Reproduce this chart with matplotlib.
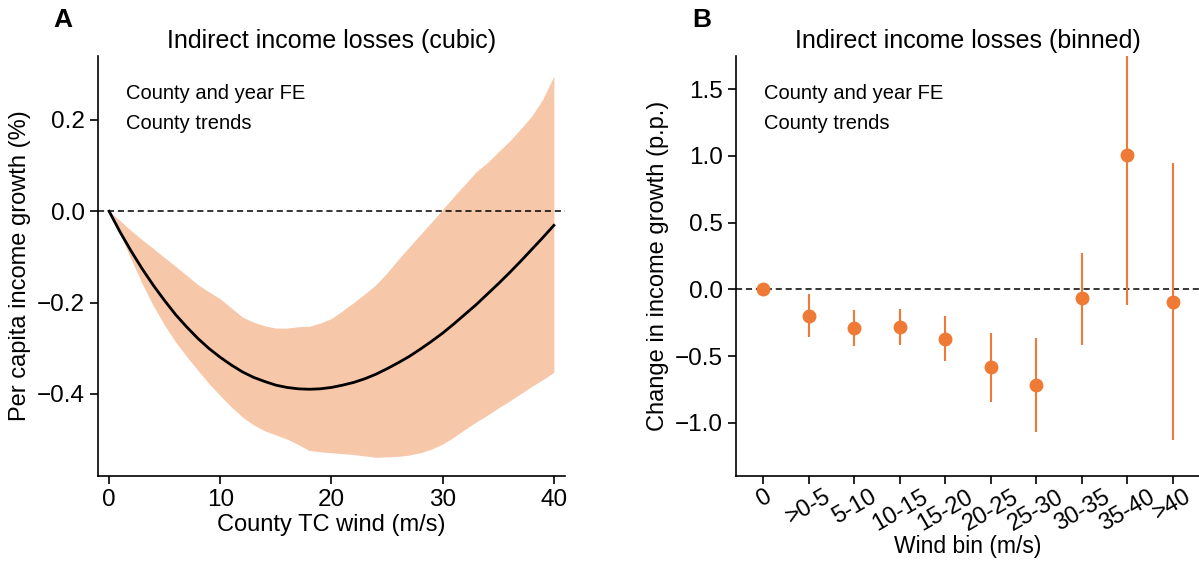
import matplotlib.pyplot as plt

plt.rcParams['font.family'] = ['Liberation Sans', 'DejaVu Sans']

# Panel A: cubic response with confidence band
wind = list(range(0, 41))
effect = [0.0, -0.046, -0.088, -0.127, -0.163, -0.196, -0.227, -0.254, -0.279, -0.301,
          -0.320, -0.337, -0.352, -0.364, -0.373, -0.381, -0.386, -0.389, -0.390, -0.389,
          -0.386, -0.381, -0.375, -0.367, -0.357, -0.345, -0.332, -0.318, -0.302, -0.285,
          -0.267, -0.247, -0.226, -0.205, -0.182, -0.159, -0.135, -0.110, -0.084, -0.058, -0.031]

band_x = [0, 1, 2, 3, 4, 5, 6, 7, 8, 9, 10, 11, 12, 13, 14, 15, 16, 17, 18, 19, 20, 21, 22, 23,
          24, 25, 26, 27, 28, 29, 30, 31, 32, 33, 34, 35, 36, 37, 38, 39, 40]
band_hi = [0.0, -0.021, -0.043, -0.063, -0.082, -0.102, -0.121, -0.141, -0.161, -0.177, -0.192,
           -0.212, -0.232, -0.243, -0.251, -0.256, -0.256, -0.253, -0.252, -0.245, -0.235, -0.218,
           -0.200, -0.181, -0.161, -0.135, -0.106, -0.078, -0.051, -0.024, 0.004, 0.032, 0.059,
           0.086, 0.106, 0.130, 0.153, 0.180, 0.208, 0.245, 0.296]
band_lo = [0.0, -0.051, -0.106, -0.160, -0.208, -0.250, -0.287, -0.319, -0.349, -0.378, -0.404,
           -0.429, -0.451, -0.468, -0.481, -0.490, -0.499, -0.511, -0.524, -0.527, -0.529, -0.531,
           -0.533, -0.536, -0.539, -0.538, -0.537, -0.534, -0.529, -0.521, -0.510, -0.495, -0.478,
           -0.462, -0.447, -0.431, -0.416, -0.400, -0.384, -0.369, -0.353]

# Panel B: binned estimates
bins = ['0', '>0-5', '5-10', '10-15', '15-20', '20-25', '25-30', '30-35', '35-40', '>40']
coef = [0.0, -0.197, -0.292, -0.284, -0.373, -0.586, -0.719, -0.068, 1.005, -0.095]
ci_lo = [0.0, -0.359, -0.427, -0.414, -0.541, -0.846, -1.068, -0.414, -0.114, -1.130]
ci_hi = [0.0, -0.035, -0.157, -0.149, -0.203, -0.324, -0.365, 0.276, 1.80, 0.946]

fill_col = '#f7c7aa'
dot_col = '#ee7a35'

fig = plt.figure(figsize=(11.99, 5.61), dpi=100)
ax1 = fig.add_axes([0.0817, 0.1515, 0.3895, 0.7487])
ax2 = fig.add_axes([0.614, 0.1515, 0.386, 0.7487])

ax1.fill_between(band_x, band_lo, band_hi, color=fill_col, linewidth=0)
ax1.plot(wind, effect, color='black', lw=2)
ax1.axhline(0, color='black', ls='--', lw=1.1, dashes=(4, 2.5))
ax1.set_xlim(-1, 41)
ax1.set_ylim(-0.58, 0.34)
ax1.set_xticks([0, 10, 20, 30, 40])
ax1.set_yticks([-0.4, -0.2, 0.0, 0.2])
ax1.set_xlabel('County TC wind (m/s)', fontsize=17, labelpad=2)
ax1.set_ylabel('Per capita income growth (%)', fontsize=17, labelpad=4)
ax1.set_title('Indirect income losses (cubic)', fontsize=18, pad=6)
ax1.text(0.06, 0.91, 'County and year FE', transform=ax1.transAxes, fontsize=14.5, va='center')
ax1.text(0.06, 0.84, 'County trends', transform=ax1.transAxes, fontsize=14.5, va='center')

idx = list(range(len(bins)))
err_lo = [c - lo for c, lo in zip(coef, ci_lo)]
err_hi = [hi - c for c, hi in zip(coef, ci_hi)]
ax2.axhline(0, color='black', ls='--', lw=1.1, dashes=(4, 2.5))
ax2.errorbar(idx, coef, yerr=[err_lo, err_hi], fmt='o', color=dot_col, ms=9,
             elinewidth=1.5, capsize=0, zorder=3)
ax2.set_xlim(-0.6, 9.58)
ax2.set_ylim(-1.4, 1.75)
ax2.set_xticks(idx)
ax2.set_xticklabels(bins, rotation=30, ha='center')
ax2.set_yticks([-1.0, -0.5, 0.0, 0.5, 1.0, 1.5])
ax2.set_xlabel('Wind bin (m/s)', fontsize=16.5, labelpad=0)
ax2.set_ylabel('Change in income growth (p.p.)', fontsize=17, labelpad=4)
ax2.set_title('Indirect income losses (binned)', fontsize=18, pad=6)
ax2.text(0.06, 0.91, 'County and year FE', transform=ax2.transAxes, fontsize=14.5, va='center')
ax2.text(0.06, 0.84, 'County trends', transform=ax2.transAxes, fontsize=14.5, va='center')

for ax in (ax1, ax2):
    ax.spines['top'].set_visible(False)
    ax.spines['right'].set_visible(False)
    ax.tick_params(labelsize=17.5, length=6, width=1.2)
    for s in ('left', 'bottom'):
        ax.spines[s].set_linewidth(1.2)
ax2.tick_params(axis='x', labelsize=17, pad=1)

fig.text(0.052, 0.965, 'A', fontsize=19, fontweight='bold', va='center', ha='center')
fig.text(0.585, 0.965, 'B', fontsize=19, fontweight='bold', va='center', ha='center')

fig.savefig('out.png', dpi=100)
